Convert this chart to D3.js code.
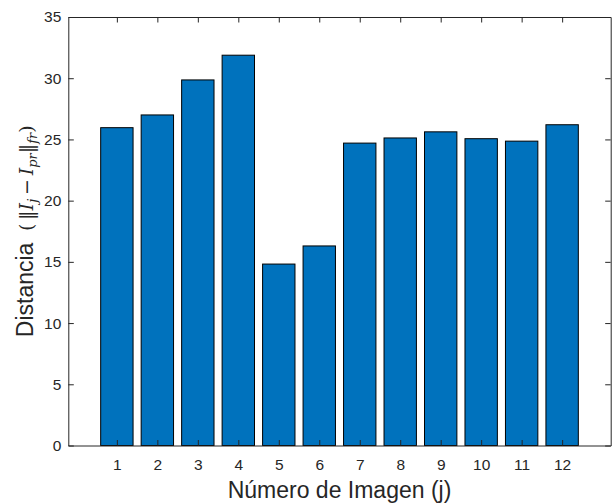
<!DOCTYPE html>
<html>
<head>
<meta charset="utf-8">
<script src="https://cdn.jsdelivr.net/npm/d3@7"></script>
<style>
  body { margin: 0; background: #fff; }
  text { font-family: "Liberation Sans", Arial, sans-serif; fill: #262626; }
</style>
</head>
<body>
<div id="chart"></div>
<script>
// data
var images = [1, 2, 3, 4, 5, 6, 7, 8, 9, 10, 11, 12]
var distances = [25.96, 27.0, 29.86, 31.88, 14.82, 16.30, 24.70, 25.12, 25.62, 25.06, 24.86, 26.20]
var yTicks = [0, 5, 10, 15, 20, 25, 30, 35]

var W = 613, H = 504
var margin = {top: 17, right: 2.3, bottom: 58.5, left: 68.3}
var width = W - margin.left - margin.right,
    height = H - margin.top - margin.bottom

var svg = d3.select("#chart")
  .append("svg")
    .attr("width", W)
    .attr("height", H)
  .append("g")
    .attr("transform", "translate(" + margin.left + "," + margin.top + ")")

var x = d3.scaleLinear().domain([-0.2, 13.2]).range([0, width])
var y = d3.scaleLinear().domain([0, 35]).range([height, 0])
var barW = x(0.8) - x(0)

// bars
svg.selectAll("rect.bar")
  .data(distances)
  .enter()
  .append("rect")
    .attr("class", "bar")
    .attr("x", function(d, i) { return x(images[i]) - barW / 2 })
    .attr("y", function(d) { return y(d) })
    .attr("width", barW)
    .attr("height", function(d) { return y(0) - y(d) })
    .attr("fill", "#0072BD")
    .attr("stroke", "#000")
    .attr("stroke-width", 1)

// axes, MATLAB style box with inward ticks
var tickLen = 5.5
var axisColor = "#262626"

var axBottom = svg.append("g")
  .attr("transform", "translate(0," + height + ")")
  .call(d3.axisBottom(x).tickValues(images).tickSizeInner(-tickLen).tickSizeOuter(0).tickPadding(13))
var axTop = svg.append("g")
  .call(d3.axisTop(x).tickValues(images).tickSizeInner(-tickLen).tickSizeOuter(0).tickFormat(""))
var axLeft = svg.append("g")
  .call(d3.axisLeft(y).tickValues(yTicks).tickSizeInner(-tickLen).tickSizeOuter(0).tickPadding(7))
var axRight = svg.append("g")
  .attr("transform", "translate(" + width + ",0)")
  .call(d3.axisRight(y).tickValues(yTicks).tickSizeInner(-tickLen).tickSizeOuter(0).tickFormat(""))

;[axBottom, axTop, axLeft, axRight].forEach(function(g) {
  g.select(".domain").attr("stroke", axisColor).attr("stroke-width", 1)
  g.selectAll(".tick line").attr("stroke", axisColor).attr("stroke-width", 1)
  g.selectAll(".tick text")
    .style("font-family", '"Liberation Sans", Arial, sans-serif')
    .style("font-size", "15.5px")
    .attr("fill", axisColor)
})

// x label
svg.append("text")
  .attr("x", width / 2)
  .attr("y", height + 52)
  .attr("text-anchor", "middle")
  .style("font-size", "23px")
  .text("Número de Imagen (j)")

// y label with math part
var yl = svg.append("text")
  .attr("transform", "translate(" + (-35) + "," + (height / 2) + ") rotate(-90)")
  .attr("text-anchor", "middle")
  .style("font-size", "23px")
yl.append("tspan").text("Distancia\u2002")
var mathFont = '"DejaVu Serif", "Liberation Serif", serif'
function m(t, opts) {
  var s = yl.append("tspan").text(t).style("font-family", mathFont).style("font-size", (opts && opts.size) || "19px")
  if (opts && opts.italic) s.style("font-style", "italic")
  if (opts && opts.dy) s.attr("dy", opts.dy)
  return s
}
m("(\u2009\u2016")
m("I", {italic: true})
m("j", {italic: true, size: "13px", dy: 4})
m("\u2009\u2212\u2009", {dy: -4})
m("I", {italic: true})
m("pr", {italic: true, size: "13px", dy: 4})
m("\u2016", {dy: -4})
m("fr", {italic: true, size: "13px", dy: 4})
m(")", {dy: -4})
</script>
</body>
</html>
